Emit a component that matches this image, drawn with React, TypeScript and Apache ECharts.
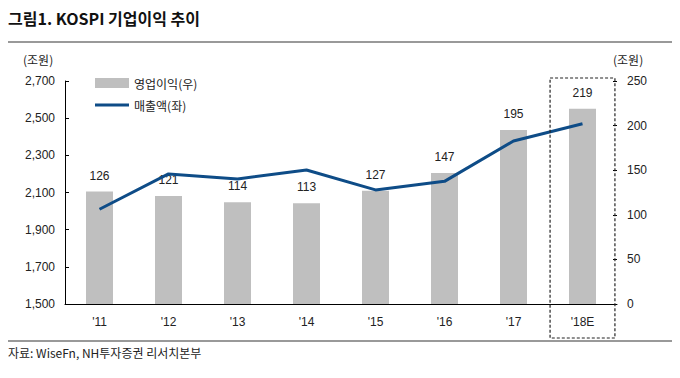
import React, { useEffect, useRef } from "react";
import * as echarts from "echarts";

const categories = ["'11", "'12", "'13", "'14", "'15", "'16", "'17", "'18E"];
const profit = [126, 121, 114, 113, 127, 147, 195, 219];
const sales = [2010, 2200, 2173, 2221, 2114, 2160, 2377, 2470];
const leftTicks = { min: 1500, max: 2700, interval: 200 };
const rightTicks = { min: 0, max: 250, interval: 50 };

const FONT = "'Liberation Sans', 'Noto Sans CJK KR', sans-serif";

export default function App() {
  const ref = useRef<HTMLDivElement>(null);
  useEffect(() => {
    const chart = echarts.init(ref.current!, null, { renderer: "svg" });
    const option: any = {
      animation: false,
      textStyle: { fontFamily: FONT },
      grid: { left: 65, right: 63, top: 81, bottom: 74, containLabel: false },
      legend: {
        left: 90,
        top: 72,
        orient: "vertical",
        itemGap: 10,
        itemWidth: 34,
        itemHeight: 10,
        textStyle: { fontSize: 12, color: "#222", fontFamily: "'Noto Sans CJK KR', sans-serif" },
        data: [
          { name: "영업이익(우)", icon: "rect" },
          { name: "매출액(좌)", icon: "path://M0,4 L34,4 L34,7 L0,7 Z" },
        ],
      },
      xAxis: {
        type: "category",
        data: categories,
        axisLine: { lineStyle: { color: "#000", width: 1 } },
        axisTick: { inside: true, length: 4, lineStyle: { color: "#000" } },
        axisLabel: { color: "#222", fontSize: 12, margin: 12, fontFamily: FONT },
      },
      yAxis: [
        {
          type: "value",
          min: leftTicks.min,
          max: leftTicks.max,
          interval: leftTicks.interval,
          splitLine: { show: false },
          axisLine: { show: true, lineStyle: { color: "#000" } },
          axisTick: { show: true, inside: true, length: 4, lineStyle: { color: "#000" } },
          axisLabel: {
            color: "#222",
            fontSize: 12,
            margin: 10,
            fontFamily: FONT,
            formatter: (v: number) => v.toLocaleString("en-US"),
          },
        },
        {
          type: "value",
          min: rightTicks.min,
          max: rightTicks.max,
          interval: rightTicks.interval,
          splitLine: { show: false },
          axisLine: { show: false },
          axisTick: { show: true, inside: true, length: 4, lineStyle: { color: "#000" } },
          axisLabel: { color: "#222", fontSize: 12, margin: 10, fontFamily: FONT },
        },
      ],
      series: [
        {
          name: "영업이익(우)",
          type: "bar",
          yAxisIndex: 1,
          data: profit,
          barWidth: 27,
          itemStyle: { color: "#BFBFBF" },
          label: {
            show: true,
            position: "top",
            distance: 10,
            color: "#222",
            fontSize: 12,
            fontFamily: FONT,
          },
          z: 2,
        },
        {
          name: "매출액(좌)",
          type: "line",
          yAxisIndex: 0,
          data: sales,
          symbol: "none",
          lineStyle: { color: "#0E4C87", width: 3 },
          itemStyle: { color: "#0E4C87" },
          z: 3,
        },
      ],
      graphic: [
        {
          type: "text",
          left: 8,
          top: 10,
          style: {
            text: "그림1. KOSPI 기업이익 추이",
            font: "bold 16px 'Noto Sans CJK KR', sans-serif",
            fill: "#111",
          },
        },
        {
          type: "line",
          shape: { x1: 8, y1: 42, x2: 672, y2: 42 },
          style: { stroke: "#777", lineWidth: 1.5 },
        },
        {
          type: "text",
          left: 23,
          top: 53,
          style: { text: "(조원)", font: "12px 'Noto Sans CJK KR', sans-serif", fill: "#222" },
        },
        {
          type: "text",
          left: 613,
          top: 53,
          style: { text: "(조원)", font: "12px 'Noto Sans CJK KR', sans-serif", fill: "#222" },
        },
        {
          type: "line",
          shape: { x1: 8, y1: 341, x2: 672, y2: 341 },
          style: { stroke: "#777", lineWidth: 1.5 },
        },
        {
          type: "text",
          left: 8,
          top: 346,
          style: {
            text: "자료: WiseFn, NH투자증권 리서치본부",
            font: "12px 'Noto Sans CJK KR', sans-serif",
            fill: "#222",
          },
        },
      ],
    };
    chart.setOption(option);

    const last = categories.length - 1;
    const c = chart.convertToPixel({ xAxisIndex: 0 }, categories[last]) as number;
    const c0 = chart.convertToPixel({ xAxisIndex: 0 }, categories[0]) as number;
    const c1 = chart.convertToPixel({ xAxisIndex: 0 }, categories[1]) as number;
    const step = c1 - c0;
    const topY = chart.convertToPixel({ yAxisIndex: 1 }, rightTicks.max) as number;
    const half = step * 0.47;
    chart.setOption({
      graphic: [
        ...option.graphic,
        {
          type: "rect",
          shape: { x: c - half, y: topY - 3, width: half * 2, height: 338 - (topY - 3) },
          style: { fill: "none", stroke: "#222", lineWidth: 1.2, lineDash: [3, 2] },
          z: 10,
        },
      ],
    });

    return () => chart.dispose();
  }, []);
  return <div ref={ref} style={{ width: 680, height: 378, position: "absolute", left: 0, top: 0 }} />;
}
